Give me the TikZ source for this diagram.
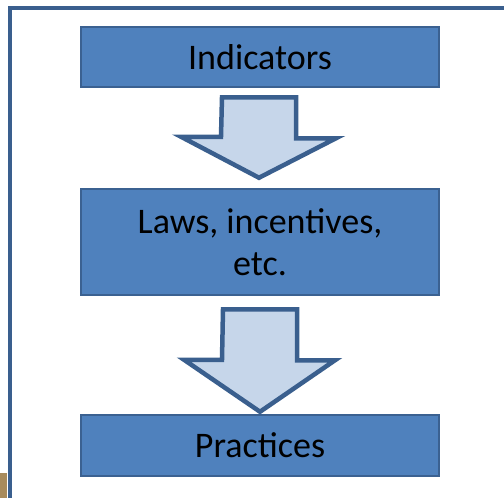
\documentclass[tikz,border=0pt]{standalone}
\usepackage{fontspec}
\setmainfont{Carlito}
\usetikzlibrary{calc}

\definecolor{boxblue}{HTML}{4F81BD}
\definecolor{boxedge}{HTML}{3B6191}
\definecolor{arrowfill}{HTML}{C6D6EA}
\definecolor{arrowedge}{HTML}{3A5F8E}
\definecolor{tan}{HTML}{A88B5C}

\tikzset{
  stepbox/.style={draw=boxedge,line width=2.5pt,fill=boxblue,minimum width=358pt,
    align=center,inner sep=0pt,font=\fontsize{36}{42}\selectfont},
  bigarrow/.style={draw=arrowedge,line width=4.5pt,fill=arrowfill,line join=miter},
}

\begin{document}
\begin{tikzpicture}[x=1pt,y=-1pt]
\useasboundingbox (0,0) rectangle (504,498);

% frame
\draw[arrowedge,line width=3.5pt] (10,498) -- (10,8) -- (506,8);
\fill[tan] (0,473) rectangle (7,498);

\node[stepbox,minimum height=60pt] (ind) at (260,57) {Indicators};
\node[stepbox,minimum height=106pt] (laws) at (260,242) {Laws, incentives,\\etc.};
\node[stepbox,minimum height=61pt] (prac) at (260,445.5) {Practices};

% block arrows
\coordinate (top1) at ($(ind.south)+(-1,9)$);
\coordinate (tip1) at ($(laws.north)+(-1,-10)$);
\draw[bigarrow] (top1) ++(-37,0) -- ++(74,0) -- ++(0,41) -- ++(40,0)
  -- (tip1) -- ++(-78,-41) -- ++(40,0) -- cycle;

\coordinate (top2) at ($(laws.south)+(0,13)$);
\coordinate (tip2) at ($(prac.north)+(0,-2)$);
\draw[bigarrow] (top2) ++(-37,0) -- ++(74,0) -- ++(0,51) -- ++(38,0)
  -- (tip2) -- ++(-76,-52) -- ++(38,0) -- cycle;

\end{tikzpicture}
\end{document}
